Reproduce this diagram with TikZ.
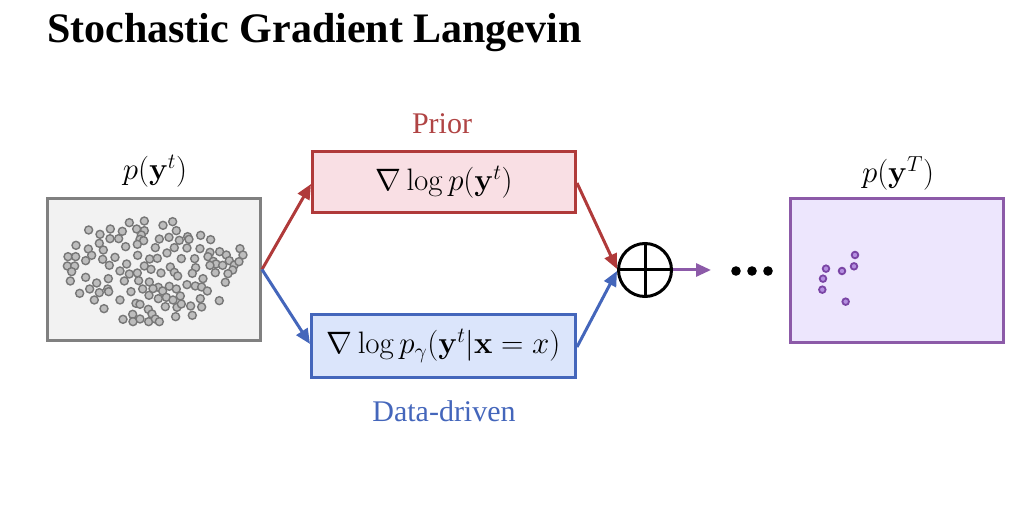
\RequirePackage{fix-cm}
\documentclass[tikz,border=0pt]{standalone}
\usepackage[no-math]{fontspec}
\newfontfamily\tnr{Liberation Serif}
\usetikzlibrary{arrows.meta}
\definecolor{grayB}{HTML}{808080}
\definecolor{grayF}{HTML}{F2F2F2}
\definecolor{redB}{HTML}{B03A3A}
\definecolor{redF}{HTML}{F9DFE4}
\definecolor{redT}{HTML}{B04444}
\definecolor{blueB}{HTML}{4466BB}
\definecolor{blueF}{HTML}{DBE5FB}
\definecolor{purB}{HTML}{8C5AA8}
\definecolor{purF}{HTML}{EDE6FD}
\definecolor{purDot}{HTML}{B48EE0}
\definecolor{purDotB}{HTML}{7A45A5}
\definecolor{dotF}{HTML}{BDBDBD}
\definecolor{dotB}{HTML}{777777}
\tikzset{
  box/.style={draw, line width=3pt, inner sep=0pt},
  mathlbl/.style={font=\fontsize{31}{37}\selectfont, inner sep=0pt},
  txtlbl/.style={font=\tnr\fontsize{30}{36}\selectfont, inner sep=0pt},
  arr/.style={line width=3pt, -{Triangle[length=15pt,width=13pt]}},
  gdot/.style={fill=dotF, draw=dotB, line width=1.4pt},
  pdot/.style={fill=purDot, draw=purDotB, line width=1.8pt},
}
\begin{document}
\begin{tikzpicture}[x=1pt, y=-1pt]
\useasboundingbox (0,0) rectangle (1017,526);
% title
\node[anchor=base west, inner sep=0pt, font=\tnr\bfseries\fontsize{42}{50}\selectfont] (title) at (47,43) {Stochastic Gradient Langevin};

% boxes
\node[box, draw=grayB, fill=grayF, minimum width=213pt, minimum height=142pt] (src) at (154,269.5) {};
\node[box, draw=redB, fill=redF, minimum width=263pt, minimum height=61pt] (prior) at (444,182) {};
\node[mathlbl] (priortxt) at (prior.center) {$\nabla\log p(\mathbf{y}^t)$};
\node[box, draw=blueB, fill=blueF, minimum width=264pt, minimum height=63pt] (data) at (443.5,346) {};
\node[mathlbl] (datatxt) at (data.center) {$\nabla\log p_\gamma(\mathbf{y}^t|\mathbf{x}=x)$};
\node[box, draw=purB, fill=purF, minimum width=213pt, minimum height=144pt] (dst) at (897,270.5) {};
\node[draw=black, line width=3pt, circle, minimum size=53pt, inner sep=0pt] (plus) at (645,270) {};
\draw[line width=3pt] (plus.north) -- (plus.south) (plus.west) -- (plus.east);

% labels
\node[mathlbl, anchor=base] (lsrc) at (155,180) {$p(\mathbf{y}^t)$};
\node[mathlbl, anchor=base] (ldst) at (898,183) {$p(\mathbf{y}^T)$};
\node[txtlbl, text=redT, anchor=base] (lprior) at (442,134) {Prior};
\node[txtlbl, text=blueB, anchor=base] (ldata) at (444,421) {Data-driven};

% arrows
\draw[arr, redB] (src.east) -- ([yshift=-2pt]prior.west);
\draw[arr, blueB] (src.east) -- ([yshift=2pt]data.west);
\draw[arr, redB] ([yshift=-1pt]prior.east) -- ([yshift=1pt]plus.west);
\draw[arr, blueB] ([yshift=-1pt]data.east) -- ([yshift=-1pt]plus.west);
\coordinate (pend) at (711,270);
\draw[arr, purB] (plus.east) -- (pend);

% dots
\fill (736,271) circle[radius=4.8pt] (752,271) circle[radius=4.8pt] (768,271) circle[radius=4.8pt];

% scatter in source box
\begin{scope}[shift={(40,190)}, x=0.3333pt, y=-0.3333pt]
\foreach \p in {(268,98),(313,93),(369,106),(398,95),
(146,120),(180,133),(211,117),(247,124),(290,117),(313,122),(304,135),(409,122),
(210,146),(236,146),(300,148),(311,152),(358,147),(387,142),(418,151),(443,140),(447,148),(482,136),(512,149),
(108,166),(178,160),(190,180),(145,177),(257,170),(292,163),(346,173),(381,189),(403,173),(441,174),(480,176),(510,187),(539,185),(559,195),(600,176),(609,195),
(84,200),(107,200),(155,196),(137,212),(188,208),(225,202),(293,196),(329,207),(352,205),(424,206),(464,206),(504,200),(520,214),(528,222),(548,226),(568,212),(583,225),(597,215),(578,240),
(82,228),(104,228),(95,245),(208,226),(260,222),(313,228),(333,238),(391,231),(403,247),(413,258),(467,233),(510,226),(526,248),(564,251),
(91,273),(137,262),(205,266),(240,243),(268,252),(292,249),(363,249),(457,250),(489,266),(556,277),
(170,279),(253,273),(296,272),(328,276),(355,292),(368,303),(339,296),(388,289),(409,297),(441,284),(466,288),(485,291),(502,303),
(119,310),(149,297),(178,308),(203,297),(206,305),(273,305),(308,297),(327,316),(355,326),(379,322),(399,330),(421,318),
(163,330),(240,330),(288,340),(300,343),(376,350),(411,352),(424,342),(452,348),(485,351),(481,326),(538,332),
(192,356),(325,358),(278,373),(336,372),(249,388),(279,395),(300,387),(326,395),(346,387),(358,395),(407,380),(457,376)}
  \draw[gdot] \p circle[radius=4pt];
\end{scope}

% points in destination box
\begin{scope}[shift={(780,190)}, x=0.3333pt, y=-0.3333pt]
\foreach \p in {(225,195),(222,229),(138,236),(186,243),(129,266),(127,299),(197,335)}
  \draw[pdot] \p circle[radius=3.3pt];
\end{scope}
\end{tikzpicture}
\end{document}
